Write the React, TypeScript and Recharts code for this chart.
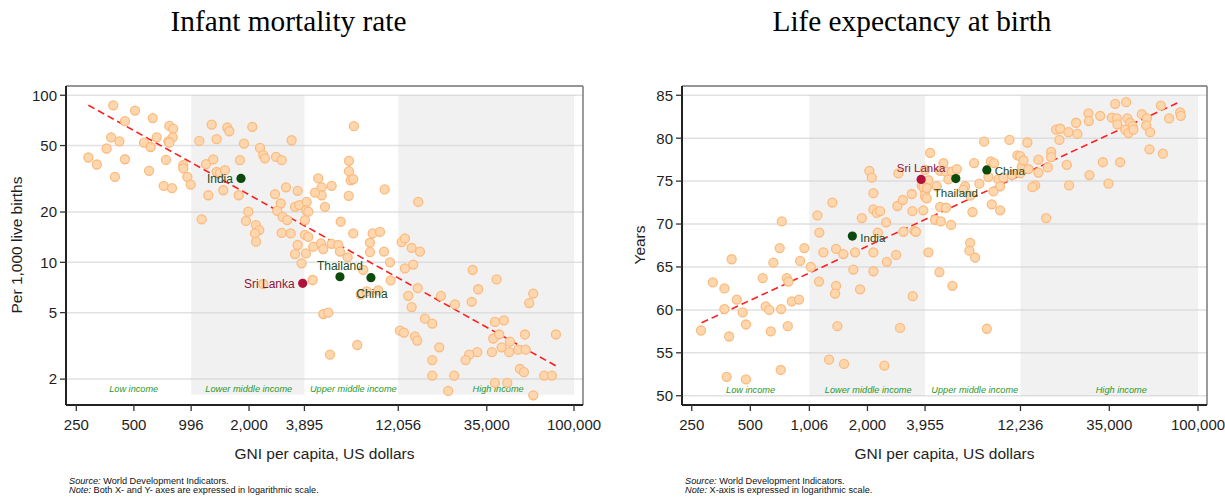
import React from 'react';
import { ScatterChart, Scatter, XAxis, YAxis, ReferenceArea, ReferenceLine, CartesianGrid } from 'recharts';

const SANS = '"Liberation Sans", Arial, Helvetica, sans-serif';
const SERIF = '"Liberation Serif", "Times New Roman", serif';

// ---------- data ----------
const chartTitles = ['Infant mortality rate', 'Life expectancy at birth'];
const incomeGroups = ['Low income', 'Lower middle income', 'Upper middle income', 'High income'];

// [GNI per capita (US$), infant deaths per 1,000 live births]
const infantMortality: [number, number][] = [
  [390, 87], [507, 81], [627, 73], [449, 70], [766, 65.5], [803, 63], [380, 56], [420, 53], [658, 56], [798, 56],
  [565, 52], [612, 49], [757, 53], [766, 52], [360, 48], [289, 42.4], [320, 38.5], [449, 41.4], [736, 41], [398, 32.5],
  [600, 35.3], [906, 38.2], [906, 36.5], [951, 32.5], [991, 29.2], [716, 28.7], [791, 27.8],
  [1099, 53.3], [1276, 66.8], [1354, 54.6], [1539, 64.1], [1577, 60.9], [2080, 64.6], [1882, 51.4], [2282, 48.4], [2374, 43.8], [2423, 41.9],
  [2766, 42.8], [2963, 40.9], [3340, 53.8], [1300, 41.3], [1191, 38.7], [1354, 34.8], [1410, 34.3], [1497, 35.6], [1793, 40.9], [1225, 25.2],
  [1467, 27], [1766, 25.2], [1131, 18.1], [1982, 20.1], [1928, 17.7], [2175, 16.7], [2263, 15.6], [2149, 14.9], [2175, 13.3], [2733, 25.6],
  [2928, 22.5], [2809, 20.3], [3120, 28.1], [3592, 26.8], [2998, 18.7], [3168, 17.9], [2963, 15], [3302, 14.9], [3478, 21.5], [3661, 22],
  [4003, 23], [3970, 20.5], [3922, 17.9], [4080, 20.1], [3592, 12.7], [3478, 11.2], [3970, 11.3], [3922, 14.6], [4080, 14.2], [4335, 12.4],
  [3768, 9.86], [4302, 7.84], [2374, 7.42],
  [7072, 65.3], [6662, 40.5], [6662, 35.1], [6800, 31], [7012, 31.5], [4603, 31.8], [4795, 28.1], [4795, 25.2], [4423, 26.1], [5407, 28.7],
  [6637, 25], [10235, 27.3], [15335, 23], [4988, 21.5], [6028, 17.5], [7012, 14.9], [8858, 14.9], [9672, 15.2], [8575, 13.1], [8575, 11.5],
  [10150, 11.6], [4755, 13], [4888, 12], [5407, 12.9], [5858, 12.7], [5975, 11.6], [6555, 10.7], [10910, 10], [7910, 9], [12557, 13.2],
  [13068, 13.9], [14165, 12.2], [15653, 11.6], [13068, 9.2], [14440, 9.7], [29525, 9], [39400, 7.9], [7665, 6.4], [8243, 6.7], [9478, 6.8],
  [11000, 7.8], [15225, 7], [13598, 6.3], [14165, 5.4], [20150, 6.3], [23850, 5.6], [29175, 5.8], [31575, 6.9], [61225, 6.5], [58325, 5.7],
  [4888, 4.9], [5190, 5], [16623, 4.6], [18153, 4.3], [12303, 3.9], [12910, 3.8], [14738, 3.6], [15150, 3.4], [38600, 4.4], [43025, 4.5],
  [37825, 3.5], [40650, 3.7], [55400, 3.7], [80450, 3.7], [46225, 3.35], [41825, 3.1], [45850, 2.9], [51100, 3.0], [55875, 3.0], [37225, 2.9],
  [31200, 2.9], [28325, 2.8], [27125, 2.6], [19750, 3.1], [18153, 2.6], [7357, 3.2], [5300, 2.8], [52150, 2.3], [54725, 2.2], [18153, 2.1],
  [23650, 2.1], [38600, 1.9], [44775, 1.9], [69875, 2.1], [76650, 2.1], [22000, 1.7], [61225, 1.6],
];

// [GNI per capita (US$), life expectancy in years]
const lifeExpectancy: [number, number][] = [
  [1321, 72.5], [1106, 71.0], [1132, 69.0], [726, 70.3], [401, 65.9], [708, 67.2], [948, 67.2], [657, 65.5], [901, 65.7], [1187, 66.7],
  [1380, 67.1], [1504, 66.5], [1728, 66.7], [1871, 70.7], [2146, 71.7], [2234, 71.3], [2323, 71.5], [2046, 76.2], [2106, 75.4], [2146, 73.6],
  [2494, 70.2], [2260, 69.0], [2146, 66.7], [2515, 65.6], [2808, 66.4], [2851, 72.1], [3040, 72.8], [3380, 73.5], [3405, 71.5], [2885, 75.9],
  [3060, 69.1], [3485, 69.2], [3550, 69.1], [3878, 71.6], [3955, 73.2], [3955, 73.8], [3805, 74.5], [4038, 73.0], [3878, 74.3], [4200, 78.3],
  [4115, 66.7], [1693, 64.7], [2146, 64.5], [279, 57.6], [321, 63.2], [368, 62.5], [368, 60.1], [426, 61.2], [457, 59.7], [475, 58.3],
  [389, 56.9], [378, 52.2], [475, 51.9], [579, 63.7], [770, 63.7], [785, 63.3], [600, 60.4], [626, 60.0], [720, 60.1], [817, 61.0],
  [890, 61.2], [637, 57.5], [779, 58.1], [717, 53.0], [1023, 65.0], [1128, 63.3], [1380, 62.8], [1364, 61.9], [1833, 62.4], [1401, 58.1],
  [1270, 54.2], [1517, 53.7], [2444, 53.5], [2943, 57.9], [3420, 61.6], [7955, 79.6], [10735, 79.8], [13280, 79.5], [4915, 77.1], [7067, 77.1],
  [8612, 77.3], [8955, 77.1], [4725, 76.2], [5073, 76.1], [5428, 76.1], [5760, 76.4], [3955, 76.3], [4115, 75.1], [5213, 75.2], [6353, 74.4],
  [4038, 74.2], [4545, 74.4], [6740, 73.3], [6228, 74.0], [7525, 74.7], [8370, 75.5], [9423, 75.2], [9998, 75.4], [9615, 74.4], [8880, 73.8],
  [11043, 75.7], [12183, 75.9], [12430, 76.7], [11800, 78.0], [12183, 77.9], [12668, 77.4], [13443, 76.4], [14553, 74.5], [14090, 74.3], [15130, 76.0],
  [15130, 77.5], [16910, 76.6], [17585, 78.4], [17585, 77.8], [8712, 72.3], [9615, 71.6], [6928, 71.4], [4725, 72.0], [5073, 71.9], [4453, 70.5],
  [4765, 70.3], [5383, 69.9], [6740, 67.8], [6685, 66.9], [7153, 66.1], [16575, 70.7], [4688, 64.4], [18660, 81.0], [19563, 81.1], [21578, 80.7],
  [19400, 79.8], [24000, 80.5], [23638, 81.8], [21175, 76.9], [27675, 75.7], [21750, 74.5], [34675, 74.7], [32425, 77.2], [39800, 77.2], [27350, 82.9],
  [27475, 82.0], [31425, 82.6], [36075, 82.4], [38275, 82.3], [37525, 84.0], [42725, 84.2], [38550, 81.6], [43375, 82.3], [44775, 81.8], [46025, 81.4],
  [42225, 81.0], [43900, 80.6], [46575, 81.0], [51450, 82.8], [54600, 82.3], [54150, 81.5], [56775, 80.7], [64425, 83.8], [71075, 82.3], [80975, 83.0],
  [81650, 82.6], [56300, 78.7], [65975, 78.2], [5468, 62.8], [8215, 57.8],
];

const highlightCountries = ['India', 'Sri Lanka', 'Thailand', 'China'];
const imrHighlightGni = [1815, 3815, 5975, 8677];
const imrHighlightRate = [31.8, 7.49, 8.2, 8.09];
const lifeHighlightGni = [1673, 3775, 5690, 8215];
const lifeHighlightYears = [68.6, 75.2, 75.3, 76.3];

// income thresholds (US$)
const imrThresholds = [250, 996, 3895, 12056, 100000];
const lifeThresholds = [250, 1006, 3955, 12236, 100000];

const imrXTicks = [250, 500, 996, 2000, 3895, 12056, 35000, 100000];
const imrYTicks = [2, 5, 10, 20, 50, 100];
const lifeXTicks = [250, 500, 1006, 2000, 3955, 12236, 35000, 100000];
const lifeYTicks = [50, 55, 60, 65, 70, 75, 80, 85];

const imrXDomain = [220.8, 111450];
const imrYDomain = [1.4, 113.6];
const lifeXDomain = [222.8, 111240];
const lifeYDomain = [48.92, 86.08];
const imrBandY = [1.61, 100];
const lifeBandY = [50, 85];

// fitted trend end points
const imrTrend = [{ x: 289, y: 87.2 }, { x: 80500, y: 2.4 }];
const lifeTrend = [{ x: 281, y: 58.5 }, { x: 80000, y: 84.2 }];

// ---------- styles ----------
const GREEN_LABEL = '#2c982c';
const DOT_FILL = '#ffd7ae';
const DOT_STROKE = '#fbbb80';
const DARK_GREEN = '#0b4a0b';
const CRIMSON = '#b3103a';

const fmt = (v: number) => Number(v).toLocaleString('en-US');

const toPoints = (arr: [number, number][]) => arr.map(([x, y]) => ({ x, y }));
const toHighlights = (xs: number[], ys: number[]) =>
  highlightCountries.map((name, i) => ({ name, x: xs[i], y: ys[i] }));

const OrangeDot = (p: any) =>
  p.cx == null || p.cy == null ? null : (
    <circle cx={p.cx} cy={p.cy} r={4.5} fill={DOT_FILL} stroke={DOT_STROKE} strokeWidth={1.3} />
  );

type Place = { dx: number; dy: number; anchor: 'start' | 'middle' | 'end' };

const makeHighlightShape = (place: Record<string, Place>, fontSize: number) => (p: any) => {
  if (p.cx == null || p.cy == null) return null;
  const name = p.payload.name as string;
  const s = place[name];
  const isSL = name === 'Sri Lanka';
  return (
    <g>
      <circle cx={p.cx} cy={p.cy} r={4.6} fill={isSL ? CRIMSON : DARK_GREEN} />
      <text
        x={p.cx + s.dx}
        y={p.cy + s.dy}
        textAnchor={s.anchor}
        fontSize={fontSize}
        fontFamily={SANS}
        fill={isSL ? '#8c1538' : '#1d4a1d'}
      >
        {name}
      </text>
    </g>
  );
};

const imrPlace: Record<string, Place> = {
  India: { dx: -8, dy: 5, anchor: 'end' },
  'Sri Lanka': { dx: -8, dy: 5, anchor: 'end' },
  Thailand: { dx: 0, dy: -7, anchor: 'middle' },
  China: { dx: 1, dy: 20, anchor: 'middle' },
};
const lifePlace: Record<string, Place> = {
  India: { dx: 8, dy: 5.5, anchor: 'start' },
  'Sri Lanka': { dx: 0, dy: -7, anchor: 'middle' },
  Thailand: { dx: 0, dy: 18.5, anchor: 'middle' },
  China: { dx: 8, dy: 5.2, anchor: 'start' },
};

const bandLabel = (text: string, dx: number) => (props: any) => {
  const vb = props.viewBox;
  if (!vb) return null;
  return (
    <text
      x={vb.x + vb.width / 2 + dx}
      y={vb.y + vb.height - 2.5}
      textAnchor="middle"
      fill={GREEN_LABEL}
      fontSize={9.2}
      fontStyle="italic"
      fontFamily={SANS}
    >
      {text}
    </text>
  );
};

const labelShift = [0, 1, 2, 12];

interface PanelProps {
  points: { x: number; y: number }[];
  highlights: { name: string; x: number; y: number }[];
  thresholds: number[];
  bandY: number[];
  xTicks: number[];
  yTicks: number[];
  xDomain: number[];
  yDomain: number[];
  yLog: boolean;
  trend: { x: number; y: number }[];
  place: Record<string, Place>;
  labelSize: number;
  width: number;
  margin: { top: number; right: number; bottom: number; left: number };
}

function Panel(props: PanelProps) {
  const { points, highlights, thresholds, bandY, xTicks, yTicks, xDomain, yDomain, yLog, trend, place, labelSize, width, margin } = props;
  const tickStyle = { fill: '#1e1e1e', fontSize: 15, fontFamily: SANS };
  return (
    <ScatterChart width={width} height={497} margin={margin}>
      <CartesianGrid horizontal vertical={false} stroke="#e1e1e1" strokeWidth={1.5} />
      <XAxis
        type="number"
        dataKey="x"
        scale="log"
        domain={xDomain}
        allowDataOverflow
        ticks={xTicks}
        interval={0}
        tickFormatter={fmt}
        height={30}
        tickSize={6}
        tickMargin={8}
        tick={tickStyle}
        axisLine={{ stroke: '#222', strokeWidth: 2 }}
        tickLine={{ stroke: '#333', strokeWidth: 1.3 }}
      />
      <YAxis
        type="number"
        dataKey="y"
        scale={yLog ? 'log' : 'linear'}
        domain={yDomain}
        allowDataOverflow
        ticks={yTicks}
        interval={0}
        tickFormatter={fmt}
        width={46}
        tickSize={6}
        tickMargin={3}
        tick={tickStyle}
        axisLine={{ stroke: '#222', strokeWidth: 2 }}
        tickLine={{ stroke: '#333', strokeWidth: 1.3 }}
      />
      {incomeGroups.map((g, i) => (
        <ReferenceArea
          key={g}
          x1={thresholds[i]}
          x2={thresholds[i + 1]}
          y1={bandY[0]}
          y2={bandY[1]}
          fill={i % 2 === 1 ? '#d6d6d6' : 'none'}
          fillOpacity={i % 2 === 1 ? 0.33 : 0}
          stroke="none"
          ifOverflow="visible"
          label={bandLabel(g, labelShift[i])}
        />
      ))}
      <ReferenceLine y={yDomain[1]} stroke="#7a7a7a" strokeWidth={1.5} ifOverflow="visible" />
      <ReferenceLine x={xDomain[1]} stroke="#7a7a7a" strokeWidth={1.5} ifOverflow="visible" />
      <ReferenceLine
        segment={trend}
        stroke="#ff1f1f"
        strokeWidth={1.6}
        strokeDasharray="7 4"
        ifOverflow="visible"
      />
      <Scatter data={points} shape={OrangeDot} isAnimationActive={false} />
      <Scatter data={highlights} shape={makeHighlightShape(place, labelSize)} isAnimationActive={false} />
    </ScatterChart>
  );
}

export default function App() {
  const textSans = { fontFamily: SANS };
  return (
    <div style={{ position: 'absolute', left: 0, top: 0, width: 1225, height: 497, background: '#fff', overflow: 'hidden' }}>
      <div style={{ position: 'absolute', left: 0, top: 0 }}>
        <Panel
          points={toPoints(infantMortality)}
          highlights={toHighlights(imrHighlightGni, imrHighlightRate)}
          thresholds={imrThresholds}
          bandY={imrBandY}
          xTicks={imrXTicks}
          yTicks={imrYTicks}
          xDomain={imrXDomain}
          yDomain={imrYDomain}
          yLog
          trend={imrTrend}
          place={imrPlace}
          labelSize={12}
          width={612}
          margin={{ top: 86, right: 29, bottom: 62, left: 20 }}
        />
      </div>
      <div style={{ position: 'absolute', left: 612, top: 0 }}>
        <Panel
          points={toPoints(lifeExpectancy)}
          highlights={toHighlights(lifeHighlightGni, lifeHighlightYears)}
          thresholds={lifeThresholds}
          bandY={lifeBandY}
          xTicks={lifeXTicks}
          yTicks={lifeYTicks}
          xDomain={lifeXDomain}
          yDomain={lifeYDomain}
          yLog={false}
          trend={lifeTrend}
          place={lifePlace}
          labelSize={11.5}
          width={613}
          margin={{ top: 86, right: 18, bottom: 62, left: 24 }}
        />
      </div>
      <svg width={1225} height={497} style={{ position: 'absolute', left: 0, top: 0, pointerEvents: 'none' }}>
        <text x={288.5} y={31} textAnchor="middle" fontFamily={SERIF} fontSize={29.3} fill="#000">{chartTitles[0]}</text>
        <text x={912} y={31} textAnchor="middle" fontFamily={SERIF} fontSize={29.3} fill="#000">{chartTitles[1]}</text>

        <text x={324.5} y={459} textAnchor="middle" {...textSans} fontSize={15.5} fill="#1e1e1e">GNI per capita, US dollars</text>
        <text x={944.5} y={459} textAnchor="middle" {...textSans} fontSize={15.5} fill="#1e1e1e">GNI per capita, US dollars</text>

        <text transform="translate(22,245) rotate(-90)" textAnchor="middle" {...textSans} fontSize={15.5} fill="#1e1e1e">Per 1,000 live births</text>
        <text transform="translate(645,245) rotate(-90)" textAnchor="middle" {...textSans} fontSize={15.5} fill="#1e1e1e">Years</text>

        <text x={69} y={484} {...textSans} fontSize={9.2} fill="#111">
          <tspan fontStyle="italic">Source:</tspan> World Development Indicators.
        </text>
        <text x={69} y={493} {...textSans} fontSize={9.2} fill="#111">
          <tspan fontStyle="italic">Note:</tspan> Both X- and Y- axes are expressed in logarithmic scale.
        </text>
        <text x={685} y={484} {...textSans} fontSize={9.2} fill="#111">
          <tspan fontStyle="italic">Source:</tspan> World Development Indicators.
        </text>
        <text x={685} y={493} {...textSans} fontSize={9.2} fill="#111">
          <tspan fontStyle="italic">Note:</tspan> X-axis is expressed in logarithmic scale.
        </text>
      </svg>
    </div>
  );
}
